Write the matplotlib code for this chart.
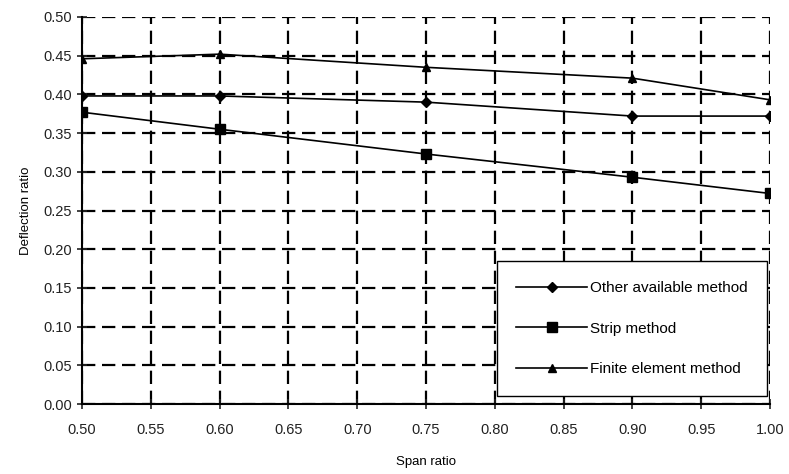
import matplotlib
matplotlib.use('Agg')
import matplotlib.pyplot as plt

plt.rcParams['font.family'] = ['Liberation Sans', 'DejaVu Sans']

# data
span = [0.50, 0.60, 0.75, 0.90, 1.00]
other = [0.398, 0.398, 0.390, 0.372, 0.372]
strip = [0.377, 0.355, 0.323, 0.293, 0.272]
fem = [0.446, 0.452, 0.435, 0.421, 0.393]

fig = plt.figure(figsize=(7.89, 4.74), dpi=100)
ax = fig.add_axes([82/789, 70/474, 688/789, 387/474])

ax.plot(span, other, color='black', lw=1.2, marker='D', ms=5, label='Other available method')
ax.plot(span, strip, color='black', lw=1.2, marker='s', ms=7, label='Strip method')
ax.plot(span, fem, color='black', lw=1.2, marker='^', ms=6, label='Finite element method')

ax.set_xlim(0.5, 1.0)
ax.set_ylim(0.0, 0.5)
ax.set_xticks([0.5 + 0.05*i for i in range(11)])
ax.set_yticks([0.05*i for i in range(11)])
ax.xaxis.set_major_formatter(matplotlib.ticker.FormatStrFormatter('%.2f'))
ax.yaxis.set_major_formatter(matplotlib.ticker.FormatStrFormatter('%.2f'))
ax.tick_params(direction='inout', length=7, width=1.2, labelsize=10.5, colors='#222222')
ax.tick_params(axis='x', pad=10)

ax.grid(True, color='black', linestyle=(0, (6, 3)), lw=1.6)
for s in ['top', 'right']:
    ax.spines[s].set_visible(False)
ax.spines['left'].set_linewidth(1.5)
ax.spines['bottom'].set_linewidth(1.5)

ax.set_xlabel('Span ratio', fontsize=9.5, labelpad=14)
ax.set_ylabel('Deflection ratio', fontsize=9.5, labelpad=8)

leg = ax.legend(loc='lower right', fontsize=11, frameon=True, fancybox=False,
                edgecolor='black', framealpha=1, borderpad=1.3, labelspacing=1.75,
                handlelength=4.6, handletextpad=0.2, borderaxespad=0,
                bbox_to_anchor=(0.996, 0.02))
leg.get_frame().set_linewidth(1.0)

plt.savefig('out.png', dpi=100)
